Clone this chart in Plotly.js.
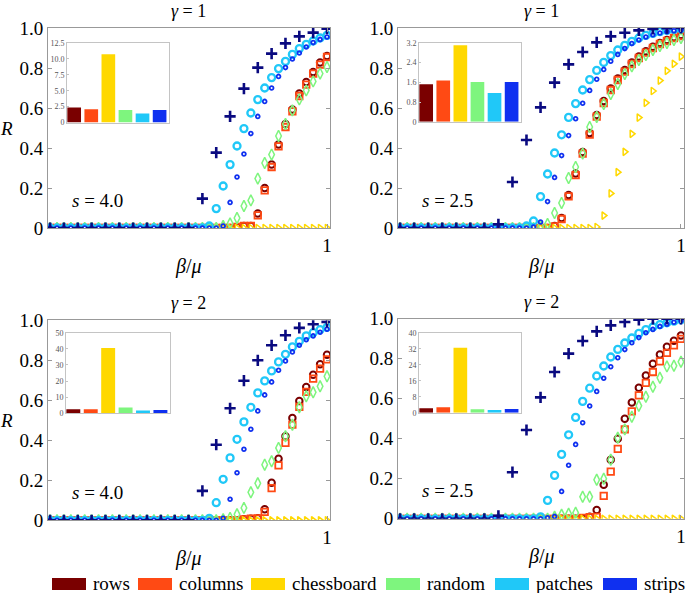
<!DOCTYPE html>
<html><head><meta charset="utf-8">
<script src="https://cdn.plot.ly/plotly-3.0.1.min.js"></script>
</head><body style="margin:0;background:#fff"><div id="chart" style="width:689px;height:593px"></div>
<script>
// ---------------- data ----------------
const categories = ['rows','columns','chessboard','random','patches','strips'];
const colors = ['#7a0000','#ff4a14','#ffd800','#7ef57e','#20c8f8','#0f30f0'];
const plusColor = '#0a0a80';

const beta = [0,0.025,0.05,0.075,0.1,0.125,0.15,0.175,0.2,0.225,
  0.25,0.275,0.3,0.325,0.35,0.375,0.4,0.425,0.45,0.475,
  0.5,0.525,0.55,0.575,0.6,0.625,0.65,0.675,0.7,0.725,
  0.75,0.775,0.8,0.825,0.85,0.875,0.9,0.925,0.95,0.975,1.0];
const betaPlus = [0,0.05,0.1,0.15,0.2,0.25,0.3,0.35,0.4,0.45,
  0.5,0.55,0.6,0.65,0.7,0.75,0.8,0.85,0.9,0.95,1.0];

const Z10 = [0,0,0,0,0,0,0,0,0,0];

// panel 1: gamma = 1, s = 4.0
const p1_rows = [...Z10, ...Z10,
  0,0,0,0,0,0,0,0.005,0.01,0.01,
  0.072,0.2,0.317,0.418,0.52,0.593,0.672,0.73,0.78,0.827, 0.86];
const p1_columns = [...Z10, ...Z10,
  0,0,0,0,0,0,0,0.005,0.01,0.01,
  0.063,0.188,0.305,0.408,0.505,0.583,0.66,0.717,0.772,0.817, 0.855];
const p1_chessboard = [...Z10, ...Z10, ...Z10, ...Z10, 0];
const p1_random = [...Z10, ...Z10,
  0,0,0,0,0,0.01,0.023,0.05,0.11,0.138,
  0.247,0.325,0.367,0.46,0.52,0.588,0.643,0.688,0.733,0.772, 0.805];
const p1_patches = [...Z10, ...Z10,
  0,0,0,0.01,0.097,0.21,0.317,0.41,0.497,0.575,
  0.642,0.70,0.752,0.797,0.833,0.868,0.897,0.918,0.935,0.95, 0.963];
const p1_strips = [...Z10, ...Z10,
  0,0,0,0,0,0.01,0.128,0.255,0.37,0.472,
  0.558,0.633,0.70,0.758,0.802,0.845,0.875,0.905,0.927,0.943, 0.955];
const p1_plus = [0,0,0,0,0,0,0,0,0,0,0,
  0.147,0.377,0.558,0.697,0.802,0.872,0.923,0.958,0.977,0.997];

// panel 2: gamma = 1, s = 2.5
const p2_rows = [...Z10, ...Z10,
  0,0,0.01,0.05,0.165,0.272,0.38,0.475,0.565,0.635,
  0.697,0.748,0.79,0.828,0.858,0.884,0.906,0.925,0.94,0.954, 0.965];
const p2_columns = [...Z10, ...Z10,
  0,0,0.008,0.045,0.158,0.264,0.372,0.467,0.557,0.625,
  0.69,0.74,0.782,0.82,0.85,0.877,0.9,0.92,0.935,0.95, 0.96];
const p2_chessboard = [...Z10, ...Z10,
  0,0,0,0,0,0,0,0,0.005,0.062,
  0.173,0.279,0.381,0.471,0.552,0.626,0.685,0.737,0.786,0.821, 0.857];
const p2_random = [...Z10, ...Z10,
  0.01,0.02,0.075,0.125,0.25,0.305,0.372,0.505,0.555,0.62,
  0.67,0.72,0.77,0.808,0.84,0.865,0.89,0.91,0.925,0.94, 0.95];
const p2_patches = [...Z10,
  0,0,0,0,0,0,0,0,0.01,0.035,
  0.157,0.27,0.375,0.466,0.553,0.622,0.69,0.742,0.788,0.828,
  0.862,0.89,0.913,0.933,0.95,0.963,0.973,0.982,0.988,0.993, 0.997];
const p2_strips = [...Z10,
  0,0,0,0,0,0,0,0,0,0.005,
  0.03,0.132,0.253,0.362,0.462,0.546,0.624,0.688,0.744,0.793,
  0.834,0.868,0.897,0.922,0.94,0.955,0.966,0.975,0.981,0.986, 0.99];
const p2_plus = [0,0,0,0,0,0,0,0.018,0.23,0.44,
  0.603,0.727,0.818,0.88,0.928,0.958,0.976,0.988,0.995,0.999, 1.0];

// panel 3: gamma = 2, s = 4.0
const p3_rows = [...Z10, ...Z10,
  0,0,0,0,0,0,0,0,0.005,0.008,
  0.01,0.055,0.188,0.308,0.42,0.512,0.597,0.667,0.728,0.78, 0.828];
const p3_columns = [...Z10, ...Z10,
  0,0,0,0,0,0,0,0,0.005,0.008,
  0.01,0.042,0.161,0.275,0.387,0.478,0.567,0.642,0.708,0.758, 0.805];
const p3_chessboard = [...Z10, ...Z10, ...Z10, ...Z10, 0];
const p3_random = [...Z10, ...Z10,
  0,0,0,0,0,0.005,0.012,0.03,0.062,0.14,
  0.185,0.278,0.295,0.362,0.42,0.478,0.565,0.62,0.64,0.67, 0.72];
const p3_patches = [...Z10, ...Z10,
  0,0,0,0.01,0.088,0.205,0.312,0.405,0.492,0.565,
  0.637,0.697,0.747,0.792,0.83,0.867,0.895,0.922,0.938,0.953, 0.965];
const p3_strips = [...Z10, ...Z10,
  0,0,0,0,0,0.01,0.105,0.238,0.355,0.455,
  0.547,0.627,0.692,0.75,0.797,0.842,0.875,0.903,0.922,0.94, 0.955];
const p3_plus = [0,0,0,0,0,0,0,0,0,0,0,
  0.147,0.378,0.56,0.698,0.8,0.875,0.925,0.962,0.98,0.992];

// panel 4: gamma = 2, s = 2.5
const p4_rows = [...Z10, ...Z10,
  0,0,0,0,0,0,0,0.01,0.044,0.17,
  0.295,0.4,0.5,0.582,0.655,0.717,0.775,0.822,0.86,0.89, 0.917];
const p4_columns = [...Z10, ...Z10,
  0,0,0,0,0,0,0.005,0.008,0.01,0.115,
  0.236,0.35,0.447,0.537,0.617,0.68,0.734,0.787,0.83,0.867, 0.9];
const p4_chessboard = [...Z10, ...Z10, ...Z10, ...Z10, 0];
const p4_random = [...Z10, ...Z10,
  0,0,0.01,0.02,0.025,0.03,0.11,0.11,0.195,0.2,
  0.295,0.405,0.447,0.51,0.565,0.61,0.66,0.705,0.762,0.765, 0.785];
const p4_patches = [...Z10, ...Z10,
  0.01,0.092,0.217,0.322,0.42,0.507,0.587,0.653,0.714,0.764,
  0.809,0.847,0.879,0.904,0.927,0.946,0.959,0.971,0.98,0.988, 0.995];
const p4_strips = [...Z10, ...Z10,
  0,0.005,0.012,0.137,0.268,0.372,0.48,0.564,0.637,0.703,
  0.76,0.805,0.846,0.88,0.906,0.93,0.947,0.962,0.973,0.983, 0.99];
const p4_plus = [0,0,0,0,0,0,0,0.015,0.233,0.444,
  0.607,0.734,0.826,0.889,0.937,0.967,0.984,0.995,1.0,1.0, 1.0];

// inset bar values (rows, columns, chessboard, random, patches, strips)
const inset1 = [2.34, 2.08, 10.75, 1.98, 1.4, 1.98];
const inset2 = [1.52, 1.68, 3.11, 1.61, 1.17, 1.61];
const inset3 = [2.5, 2.5, 40.5, 3.6, 1.7, 2.1];
const inset4 = [2.2, 2.7, 32.5, 1.7, 1.4, 1.9];
const insetTicks1 = [0, 2.5, 5, 7.5, 10, 12.5];
const insetLabels1 = ['0','2.5','5.0','7.5','10.0','12.5'];
const insetTicks2 = [0, 0.8, 1.6, 2.4, 3.2];
const insetLabels2 = ['0','0.8','1.6','2.4','3.2'];
const insetTicks3 = [0, 10, 20, 30, 40, 50];
const insetLabels3 = ['0','10','20','30','40','50'];
const insetTicks4 = [0, 8, 16, 24, 32, 40];
const insetLabels4 = ['0','8','16','24','32','40'];

const gammaLabels = ['1','1','2','2'];
const sLabels = ['4.0','2.5','4.0','2.5'];
const yTicks = [0,0.2,0.4,0.6,0.8,1.0];
const yTickText = ['0','0.2','0.4','0.6','0.8','1.0'];

// ---------------- layout geometry ----------------
const W = 689, H = 593;
const px = v => v / W;
const py = v => 1 - v / H;
const FONT = 'Times New Roman';

const panels = [
  {box:[48,330,28,228],   inset:[67,169,43,122.5],   series:[p1_rows,p1_columns,p1_chessboard,p1_random,p1_patches,p1_strips], plus:p1_plus, bars:inset1, it:insetTicks1, il:insetLabels1, imax:12.5},
  {box:[398,684,28,228],  inset:[419,521,43,121.7],  series:[p2_rows,p2_columns,p2_chessboard,p2_random,p2_patches,p2_strips], plus:p2_plus, bars:inset2, it:insetTicks2, il:insetLabels2, imax:3.2},
  {box:[48,330,320.3,520.3], inset:[66,170,332.7,413.3], series:[p3_rows,p3_columns,p3_chessboard,p3_random,p3_patches,p3_strips], plus:p3_plus, bars:inset3, it:insetTicks3, il:insetLabels3, imax:50},
  {box:[398,684,318.8,518.8], inset:[419,521,332.7,412.7], series:[p4_rows,p4_columns,p4_chessboard,p4_random,p4_patches,p4_strips], plus:p4_plus, bars:inset4, it:insetTicks4, il:insetLabels4, imax:40}
];

const symbols = ['circle-open','square-open','triangle-right-open','diamond-tall-open','circle-open','circle-open'];
const sizes = [6.5, 6.5, 6.5, 8, 7, 3.8];
const widths = [2, 1.8, 1.5, 1.5, 2.3, 1.8];

const traces = [];
const layout = {
  width: W, height: H,
  margin: {l:0, r:0, t:0, b:0},
  paper_bgcolor: '#fff', plot_bgcolor: '#fff',
  showlegend: false, hovermode: false,
  bargap: 0.2,
  annotations: [], shapes: []
};

panels.forEach((p, i) => {
  const n = i + 1, ni = i + 5;
  const xa = 'x' + n, ya = 'y' + n, xi = 'x' + ni, yi = 'y' + ni;
  p.series.forEach((ys, j) => {
    traces.push({type:'scatter', mode:'markers', x: beta, y: ys, xaxis: xa, yaxis: ya,
      name: categories[j], cliponaxis: true,
      marker: {symbol: symbols[j], size: sizes[j], color: colors[j], line: {color: colors[j], width: widths[j]}}});
  });
  traces.push({type:'scatter', mode:'markers', x: betaPlus, y: p.plus, xaxis: xa, yaxis: ya,
    name: 'plus', cliponaxis: true,
    marker: {symbol: 'cross-thin-open', size: 8, color: plusColor, line: {color: plusColor, width: 2.6}}});
  traces.push({type:'bar', x: categories, y: p.bars, xaxis: xi, yaxis: yi,
    marker: {color: colors, line: {width: 0}}});

  const [x0, x1, y0, y1] = p.box;
  layout['xaxis' + n] = {domain: [px(x0), px(x1)], anchor: ya, range: [-0.0075, 1.0108],
    tickvals: [1], ticktext: ['1'], ticks: 'inside', ticklen: 4, tickcolor: '#999',
    showline: true, mirror: 'ticks', linecolor: '#999', linewidth: 1,
    showgrid: false, zeroline: false, tickfont: {family: FONT, size: 19, color: '#000'}};
  layout['yaxis' + n] = {domain: [py(y1), py(y0)], anchor: xa, range: [0, 1],
    tickvals: yTicks, ticktext: yTickText, ticks: 'inside', ticklen: 4, tickcolor: '#999',
    showline: true, mirror: 'ticks', linecolor: '#999', linewidth: 1,
    showgrid: false, zeroline: false, tickfont: {family: FONT, size: 19, color: '#000'}};

  const [ix0, ix1, iy0, iy1] = p.inset;
  layout['xaxis' + ni] = {domain: [px(ix0), px(ix1)], anchor: yi, type: 'category',
    range: [-0.42, 5.55], showticklabels: false, ticks: '', showline: true, mirror: true,
    linecolor: '#c4c4c4', linewidth: 1, showgrid: false, zeroline: false};
  layout['yaxis' + ni] = {domain: [py(iy1), py(iy0)], anchor: xi, range: [0, p.imax],
    tickvals: p.it, ticktext: p.il, ticks: 'inside', ticklen: 2, tickcolor: '#c4c4c4',
    showline: true, mirror: true, linecolor: '#c4c4c4', linewidth: 1,
    showgrid: false, zeroline: false, tickfont: {family: FONT, size: 8, color: '#555'}};

  const cx = (x0 + x1) / 2;
  layout.annotations.push({xref:'paper', yref:'paper', x: px(cx), y: py(y0 - 17), text: '<i>γ</i> = ' + gammaLabels[i],
    showarrow: false, xanchor: 'center', yanchor: 'middle', font: {family: FONT, size: 18, color: '#000'}});
  layout.annotations.push({xref:'paper', yref:'paper', x: px(cx), y: py(y1 + 38), text: '<i>β</i>/<i>μ</i>',
    showarrow: false, xanchor: 'center', yanchor: 'middle', font: {family: FONT, size: 20, color: '#000'}});
  layout.annotations.push({xref:'paper', yref:'paper', x: px(x0 + 49), y: py(y1 - 28), text: '<i>s</i> = ' + sLabels[i],
    showarrow: false, xanchor: 'center', yanchor: 'middle', font: {family: FONT, size: 19, color: '#000'}});
  if (i % 2 === 0) {
    layout.annotations.push({xref:'paper', yref:'paper', x: px(6), y: py((y0 + y1) / 2), text: '<i>R</i>',
      showarrow: false, xanchor: 'center', yanchor: 'middle', font: {family: FONT, size: 19, color: '#000'}});
  }
});

// legend (manual swatches + labels)
const legendSwatchX = [52, 138, 251, 386, 495, 603];
categories.forEach((c, j) => {
  const sx = legendSwatchX[j];
  layout.shapes.push({type:'rect', xref:'paper', yref:'paper', x0: px(sx), x1: px(sx + 34),
    y0: py(590), y1: py(578), fillcolor: colors[j], line: {width: 0}});
  layout.annotations.push({xref:'paper', yref:'paper', x: px(sx + 39), y: py(583), text: c,
    showarrow: false, xanchor: 'left', yanchor: 'middle', font: {family: FONT, size: 19, color: '#000'}});
});

Plotly.newPlot('chart', traces, layout, {staticPlot: true, displayModeBar: false});
</script>
</body></html>
